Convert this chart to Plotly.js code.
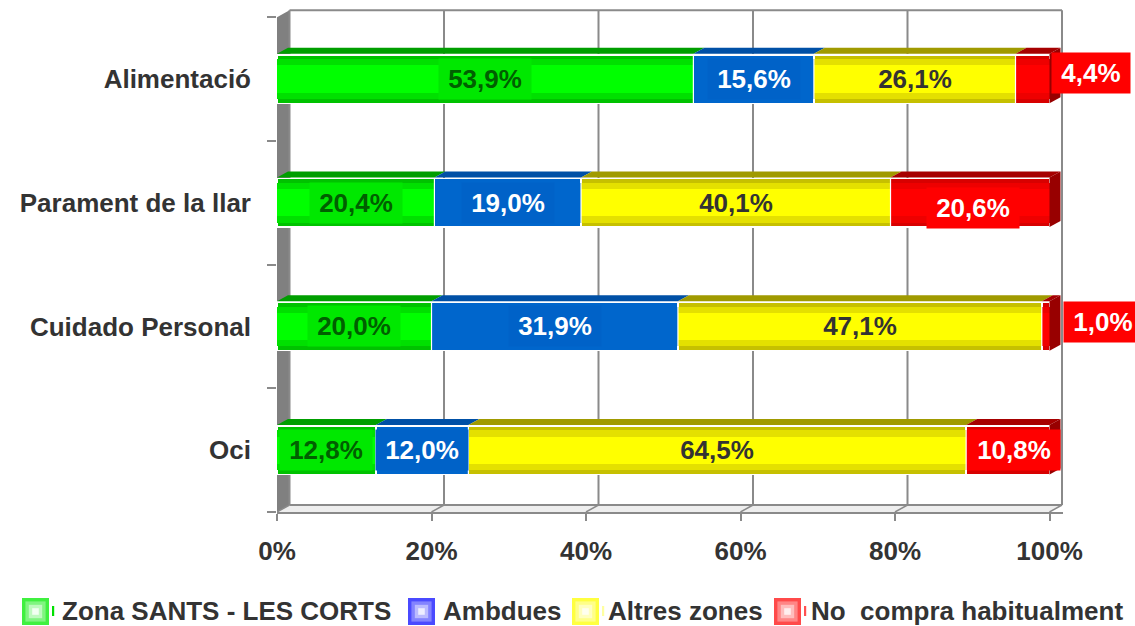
<!DOCTYPE html>
<html><head><meta charset="utf-8">
<script src="https://cdn.plot.ly/plotly-3.0.1.min.js"></script>
<style>html,body{margin:0;padding:0;background:#fff}#chart{width:1135px;height:626px}</style>
</head><body><div id="chart"></div>
<script>
// ---- data ----
const categories = ['Alimentació', 'Parament de la llar', 'Cuidado Personal', 'Oci'];
const seriesNames = ['Zona SANTS - LES CORTS', 'Ambdues', 'Altres zones', 'No  compra habitualment'];
const zonaSantsLesCorts = [53.9, 20.4, 20.0, 12.8];
const ambdues = [15.6, 19.0, 31.9, 12.0];
const altresZones = [26.1, 40.1, 47.1, 64.5];
const noCompra = [4.4, 20.6, 1.0, 10.8];
const xTickVals = [0, 20, 40, 60, 80, 100];
const xTickText = ['0%', '20%', '40%', '60%', '80%', '100%'];

// ---- geometry / style ----
const FONT = 'Liberation Sans, Arial, sans-serif';
const W = 1135, H = 626;
const M = {l: 277, r: 72, t: 9, b: 114};
const plotW = W - M.l - M.r, plotH = H - M.t - M.b;
const pxPerX = 772.5 / 100, pxPerY = 123.7;
const xMax = plotW / pxPerX;
const yMin = -0.5, yMax = yMin + plotH / pxPerY;
const wallDX = 12.5 / pxPerX, wallDY = 7 / pxPerY;
const barW = 0.392, barDX = 11 / pxPerX, barDY = 6 / pxPerY;
const GRID = '#8a8a8a';

const seriesValues = [zonaSantsLesCorts, ambdues, altresZones, noCompra];
const yPos = categories.map((c, i) => categories.length - 1 - i);

const layers = [
  {axis: 'y',  width: barW, colors: ['#00C200', '#0066CC', '#C6C000', '#D80000'], line: 1.5},
  {axis: 'y2', width: 0.32, colors: ['#00E000', '#0066CC', '#E4E000', '#EE0000'], line: 0},
  {axis: 'y3', width: 0.22, colors: ['#00FF00', '#0066CC', '#FFFF00', '#FF0000'], line: 0}
];
const topColors = ['#009E00', '#0050A6', '#A09A00', '#A60000'];
const sideColor = '#980000';
const labelText = ['#005F00', '#FFFFFF', '#333333', '#FFFFFF'];
const labelBg = ['#00E800', '#0062C8', 'rgba(0,0,0,0)', '#FF0000'];
// per-category shifts of the last series' labels (as placed in the source chart)
const lastLabelYShift = [6, -5, 4, 0];
const lastLabelXShift = [1, 3, 13.5, 6];

const traces = [];
layers.forEach((L, li) => {
  seriesValues.forEach((vals, s) => {
    traces.push({
      type: 'bar', orientation: 'h', name: seriesNames[s],
      x: vals, y: yPos, width: L.width, yaxis: L.axis,
      marker: {color: L.colors[s], line: {width: L.line, color: '#FFFFFF'}},
      showlegend: false, hoverinfo: 'skip'
    });
  });
});

// normalized cumulative positions (100% stacked)
const cum = categories.map((c, r) => {
  const tot = seriesValues.reduce((a, s) => a + s[r], 0);
  let acc = 0;
  return [0].concat(seriesValues.map(s => (acc += s[r] / tot * 100)));
});

const shapes = [];
// left wall
shapes.push({type: 'path', layer: 'below', xref: 'x', yref: 'y',
  path: `M 0,${yMin} L 0,3.5 L ${wallDX},${3.5 + wallDY} L ${wallDX},${yMin + wallDY} Z`,
  fillcolor: '#808080', line: {width: 0}});
// floor
shapes.push({type: 'path', layer: 'below', xref: 'x', yref: 'y',
  path: `M 0,${yMin} L 100,${yMin} L ${100 + wallDX},${yMin + wallDY} L ${wallDX},${yMin + wallDY} Z`,
  fillcolor: '#EEEEEE', line: {width: 0}});
shapes.push({type: 'line', layer: 'below', xref: 'x', yref: 'y',
  x0: wallDX, x1: 100 + wallDX, y0: yMin + wallDY, y1: yMin + wallDY, line: {color: GRID, width: 2}});
// back wall gridlines + top edge
xTickVals.forEach(v => {
  shapes.push({type: 'line', layer: 'below', xref: 'x', yref: 'y',
    x0: v + wallDX, x1: v + wallDX, y0: yMin + wallDY, y1: 3.5 + wallDY, line: {color: GRID, width: 2}});
  shapes.push({type: 'line', layer: 'below', xref: 'x', yref: 'y',
    x0: v, x1: v + wallDX, y0: yMin, y1: yMin + wallDY, line: {color: GRID, width: 1.5}});
});
shapes.push({type: 'line', layer: 'below', xref: 'x', yref: 'y',
  x0: wallDX, x1: 100 + wallDX, y0: 3.5 + wallDY, y1: 3.5 + wallDY, line: {color: GRID, width: 2}});

// 3D faces of the bars
const px1 = 1 / pxPerY;
categories.forEach((c, r) => {
  const yc = yPos[r], yT = yc + barW / 2 + px1, yB = yc - barW / 2;
  for (let s = 0; s < seriesValues.length; s++) {
    const x0 = cum[r][s], x1 = cum[r][s + 1];
    shapes.push({type: 'path', layer: 'above', xref: 'x', yref: 'y',
      path: `M ${x0},${yT} L ${x1},${yT} L ${x1 + barDX},${yT + barDY} L ${x0 + barDX},${yT + barDY} Z`,
      fillcolor: topColors[s], line: {width: 0}});
    if (s > 0) {
      shapes.push({type: 'line', layer: 'above', xref: 'x', yref: 'y',
        x0: x0, x1: x0, y0: yB, y1: yT - px1, line: {color: '#FFFFFF', width: 1.2}});
    }
  }
  const xe = cum[r][seriesValues.length];
  shapes.push({type: 'path', layer: 'above', xref: 'x', yref: 'y',
    path: `M ${xe},${yB} L ${xe},${yT} L ${xe + barDX},${yT + barDY} L ${xe + barDX},${yB + barDY} Z`,
    fillcolor: sideColor, line: {width: 0}});
});

// data labels
const annotations = [];
const fmt = v => v.toFixed(1).replace('.', ',') + '%';
categories.forEach((c, r) => {
  seriesValues.forEach((vals, s) => {
    const last = s === seriesValues.length - 1;
    const outside = last && vals[r] < 5;
    annotations.push({
      xref: 'x', yref: 'y', showarrow: false,
      x: outside ? cum[r][s + 1] : (cum[r][s] + cum[r][s + 1]) / 2,
      y: yPos[r],
      xanchor: outside ? 'left' : 'center', yanchor: 'middle',
      xshift: last ? lastLabelXShift[r] : 0,
      yshift: last ? lastLabelYShift[r] : 0,
      text: fmt(vals[r]),
      font: {family: FONT, size: 26, weight: 'bold', color: labelText[s]},
      bgcolor: labelBg[s], width: outside ? 78 : 92, height: 40, borderpad: 0
    });
  });
});

// legend (drawn as shapes + text in paper coordinates)
const pxX = px => (px - M.l) / plotW;
const pxY = py => (H - M.b - py) / plotH;
const legendSquares = [
  ['#40F040', '#80F580', '#BFFABF', '#F2FFF2'],
  ['#4A4AFF', '#8383FF', '#BBBBFF', '#EEEEFF'],
  ['#FFFF40', '#FFFF88', '#FFFFC0', '#FFFFF0'],
  ['#FF4A4A', '#FF8686', '#FFBDBD', '#FFEFEF']
];
const legendSqX = [22, 408, 572, 774];
const legendTextX = [60, 441, 606, 809];
const legendDash = [[52, '#00E000'], null, [602, '#FFFFA0'], [804, '#FF5050']];
const sqY = 598, sqS = 27;
seriesNames.forEach((n, s) => {
  legendSquares[s].forEach((col, k) => {
    const inset = k * 3.4;
    shapes.push({type: 'rect', xref: 'paper', yref: 'paper', layer: 'above',
      x0: pxX(legendSqX[s] + inset), x1: pxX(legendSqX[s] + sqS - inset),
      y0: pxY(sqY + sqS - inset), y1: pxY(sqY + inset),
      fillcolor: col, line: {width: 0}});
  });
  if (legendDash[s]) {
    shapes.push({type: 'rect', xref: 'paper', yref: 'paper', layer: 'above',
      x0: pxX(legendDash[s][0]), x1: pxX(legendDash[s][0] + 2.2),
      y0: pxY(616), y1: pxY(606), fillcolor: legendDash[s][1], line: {width: 0}});
  }
  annotations.push({xref: 'paper', yref: 'paper', showarrow: false,
    x: pxX(legendTextX[s]), y: pxY(611), xanchor: 'left', yanchor: 'middle',
    text: n.replace(/  /g, ' &nbsp;'),
    font: {family: FONT, size: 26, weight: 'bold', color: '#333333'}});
});

const hiddenY = {range: [yMin, yMax], overlaying: 'y', visible: false, fixedrange: true};
const layout = {
  width: W, height: H, margin: M,
  paper_bgcolor: '#FFFFFF', plot_bgcolor: 'rgba(0,0,0,0)',
  barmode: 'stack', barnorm: 'percent', showlegend: false,
  font: {family: FONT, color: '#333333'},
  xaxis: {range: [0, xMax], tickmode: 'array', tickvals: xTickVals, ticktext: xTickText,
    ticks: 'outside', ticklen: 7, tickwidth: 2, tickcolor: GRID,
    showline: true, linecolor: GRID, linewidth: 2, showgrid: false, zeroline: false,
    ticklabelstandoff: 8, fixedrange: true,
    tickfont: {family: FONT, size: 26, weight: 'bold', color: '#333333'}},
  yaxis: {range: [yMin, yMax], tickmode: 'array', tickvals: yPos, ticktext: categories,
    ticks: '', showgrid: false, zeroline: false, showline: false, fixedrange: true,
    ticklabelstandoff: 25,
    minor: {tickmode: 'array', tickvals: [-0.5, 0.5, 1.5, 2.5, 3.5], ticks: 'outside',
      ticklen: 9, tickwidth: 2, tickcolor: GRID, showgrid: false},
    tickfont: {family: FONT, size: 26, weight: 'bold', color: '#333333'}},
  yaxis2: hiddenY,
  yaxis3: Object.assign({}, hiddenY),
  shapes: shapes,
  annotations: annotations
};
Plotly.newPlot('chart', traces, layout, {staticPlot: true, displayModeBar: false});
</script>
</body></html>
